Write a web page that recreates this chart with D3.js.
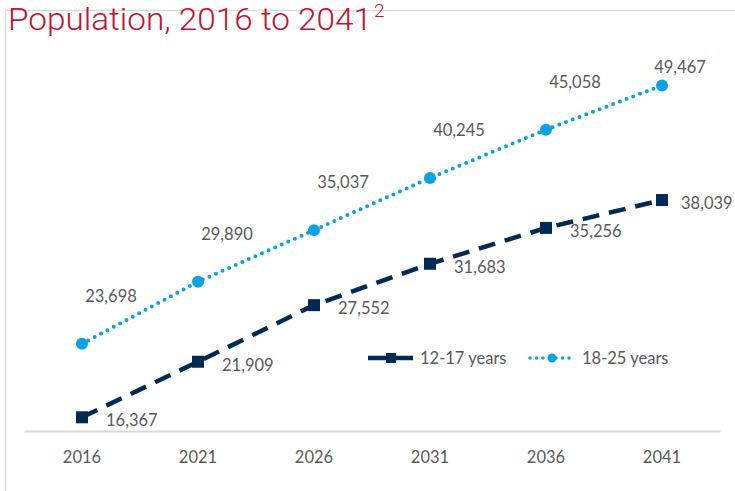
<!DOCTYPE html>
<html>
<head>
<meta charset="utf-8">
<script src="https://cdn.jsdelivr.net/npm/d3@7"></script>
<style>
  html, body { margin: 0; padding: 0; background: #fff; }
  svg { display: block; }
  .lbl { font-family: Lato, 'Open Sans', sans-serif; font-size: 16.5px; fill: #595959; }
</style>
</head>
<body>
<div id="chart"></div>
<script>
// data
const years = ['2016', '2021', '2026', '2031', '2036', '2041'];
const teens = [16367, 21909, 27552, 31683, 35256, 38039];
const youngAdults = [23698, 29890, 35037, 40245, 45058, 49467];
const seriesNames = ['12-17 years', '18-25 years'];
const titleText = 'Population, 2016 to 2041';
const titleNote = '2';

const width = 735;
const height = 491;
const navy = '#002a54';
const blue = '#0aa2e2';
const red = '#c41230';
const fmt = d3.format(',');

const svg = d3.select('#chart')
  .append('svg')
  .attr('width', width)
  .attr('height', height);

// frame
svg.append('line')
  .attr('x1', 5.5).attr('x2', width)
  .attr('y1', 10.5).attr('y2', 10.5)
  .attr('stroke', '#d9d9d9').attr('stroke-width', 1.5);
svg.append('line')
  .attr('x1', 5.5).attr('x2', 5.5)
  .attr('y1', 10.5).attr('y2', height)
  .attr('stroke', '#d9d9d9').attr('stroke-width', 1.5);

// title
svg.append('text')
  .attr('x', 8)
  .attr('y', 30)
  .attr('textLength', 364)
  .attr('lengthAdjust', 'spacingAndGlyphs')
  .style('font-family', 'Roboto, sans-serif')
  .style('font-weight', 300)
  .style('font-size', '32px')
  .style('fill', red)
  .text(titleText);
svg.append('text')
  .attr('x', 374)
  .attr('y', 17)
  .style('font-family', 'Roboto, sans-serif')
  .style('font-weight', 300)
  .style('font-size', '19px')
  .style('fill', red)
  .text(titleNote);

// scales
const x = d3.scaleBand()
  .domain(years)
  .range([24, 720]);
const cx = (d) => x(d) + x.bandwidth() / 2;

const y = d3.scaleLinear()
  .domain([15000, 55000])
  .range([431, 30]);

// axis
const xAxis = svg.append('g')
  .attr('transform', `translate(0,${y(15000)})`)
  .call(d3.axisBottom(x).tickSize(0).tickPadding(20));
xAxis.select('.domain')
  .attr('stroke', '#d9d9d9')
  .attr('stroke-width', 2);
xAxis.selectAll('text')
  .attr('class', 'lbl')
  .attr('font-family', null)
  .attr('font-size', null)
  .attr('fill', null);

const teenData = years.map((yr, i) => ({ year: yr, value: teens[i] }));
const adultData = years.map((yr, i) => ({ year: yr, value: youngAdults[i] }));
const last = years.length - 1;

const line = d3.line()
  .x((d) => cx(d.year))
  .y((d) => y(d.value));

// 18-25 series
svg.append('path')
  .datum(adultData)
  .attr('d', line)
  .attr('fill', 'none')
  .attr('stroke', blue)
  .attr('stroke-width', 4)
  .attr('stroke-linecap', 'round')
  .attr('stroke-dasharray', '0,7.2');

svg.selectAll('.adult-dot')
  .data(adultData)
  .enter()
  .append('circle')
  .attr('class', 'adult-dot')
  .attr('cx', (d) => cx(d.year))
  .attr('cy', (d) => y(d.value))
  .attr('r', 6)
  .attr('fill', blue);

// 12-17 series
svg.append('path')
  .datum(teenData)
  .attr('d', line)
  .attr('fill', 'none')
  .attr('stroke', navy)
  .attr('stroke-width', 4.5)
  .attr('stroke-dasharray', '17,10');

svg.selectAll('.teen-mark')
  .data(teenData)
  .enter()
  .append('rect')
  .attr('class', 'teen-mark')
  .attr('x', (d) => cx(d.year) - 6)
  .attr('y', (d) => y(d.value) - 6)
  .attr('width', 12)
  .attr('height', 12)
  .attr('fill', navy);

// data labels
svg.selectAll('.adult-label')
  .data(adultData)
  .enter()
  .append('text')
  .attr('class', 'lbl adult-label')
  .attr('text-anchor', 'middle')
  .attr('x', (d, i) => cx(d.year) + (i === last ? 18 : 29))
  .attr('y', (d, i) => y(d.value) + (i === last ? -12 : -42))
  .text((d) => fmt(d.value));

svg.selectAll('.teen-label')
  .data(teenData)
  .enter()
  .append('text')
  .attr('class', 'lbl teen-label')
  .attr('x', (d, i) => cx(d.year) + (i === last ? 19 : 24))
  .attr('y', (d) => y(d.value) + 9)
  .text((d) => fmt(d.value));

// legend
const legend = svg.append('g')
  .attr('transform', 'translate(368,358)');

legend.append('line')
  .attr('x1', 0).attr('x2', 45)
  .attr('stroke', navy)
  .attr('stroke-width', 4.5);
legend.append('rect')
  .attr('x', 18).attr('y', -5)
  .attr('width', 10).attr('height', 10)
  .attr('fill', navy);
legend.append('text')
  .attr('class', 'lbl')
  .attr('x', 52).attr('y', 6)
  .text(seriesNames[0]);

legend.append('line')
  .attr('x1', 162).attr('x2', 205)
  .attr('stroke', blue)
  .attr('stroke-width', 3.5)
  .attr('stroke-linecap', 'round')
  .attr('stroke-dasharray', '0,6.5');
legend.append('circle')
  .attr('cx', 184).attr('cy', 0)
  .attr('r', 4.5)
  .attr('fill', blue);
legend.append('text')
  .attr('class', 'lbl')
  .attr('x', 214).attr('y', 6)
  .text(seriesNames[1]);
</script>
</body>
</html>
